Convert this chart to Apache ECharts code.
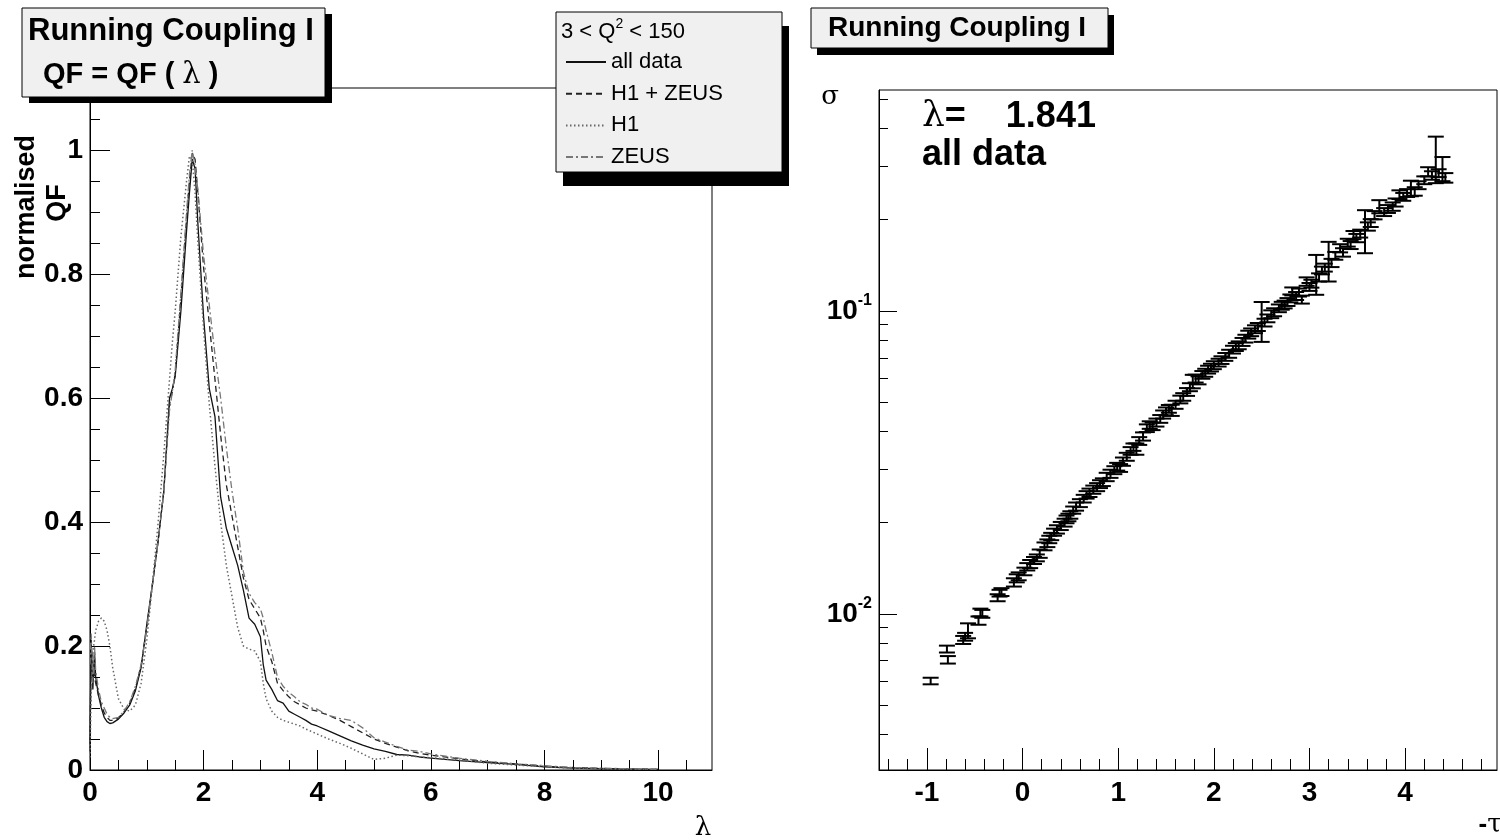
<!DOCTYPE html>
<html>
<head>
<meta charset="utf-8">
<title>Running Coupling I</title>
<script src="https://cdn.jsdelivr.net/npm/echarts@6/dist/echarts.min.js"></script>
<style>
  html, body { margin: 0; padding: 0; background: #fff; }
  #main { width: 1500px; height: 840px; }
</style>
</head>
<body>
<div id="main"></div>
<script>
// ---- left pad : normalised QF as a function of lambda ----
var lambdaGrid = [0, 0.02, 0.05, 0.08, 0.1, 0.15, 0.2, 0.25, 0.3, 0.35,
    0.4, 0.5, 0.6, 0.7, 0.8, 0.9, 1.0, 1.1, 1.2, 1.3,
    1.4, 1.45, 1.5, 1.6, 1.7, 1.75, 1.8, 1.85, 1.9, 2.0,
    2.1, 2.2, 2.3, 2.4, 2.5, 2.6, 2.7, 2.8, 2.9, 3.0,
    3.05, 3.1, 3.2, 3.3, 3.4, 3.5, 3.6, 3.7, 3.8, 3.9,
    4.0, 4.2, 4.4, 4.6, 4.8, 5.0, 5.2, 5.4, 5.6, 5.8,
    6.0, 6.5, 7.0, 7.5, 8.0, 8.5, 9.0, 9.5, 10.0];

var qfAllData = [0.04, 0.21, 0.13, 0.19, 0.15, 0.12, 0.10, 0.085, 0.078, 0.075,
    0.076, 0.082, 0.092, 0.105, 0.128, 0.165, 0.235, 0.30, 0.37, 0.45,
    0.60, 0.615, 0.635, 0.74, 0.87, 0.93, 0.985, 0.97, 0.88, 0.73,
    0.615, 0.57, 0.44, 0.39, 0.36, 0.33, 0.29, 0.245, 0.235, 0.215,
    0.17, 0.145, 0.13, 0.112, 0.108, 0.095, 0.09, 0.085, 0.08, 0.074,
    0.071, 0.063, 0.055, 0.047, 0.04, 0.034, 0.03, 0.025, 0.024, 0.021,
    0.019, 0.015, 0.012, 0.009, 0.005, 0.003, 0.002, 0.0015, 0.001];

var qfH1Zeus = [0.03, 0.2, 0.17, 0.15, 0.14, 0.12, 0.105, 0.092, 0.085, 0.08,
    0.08, 0.084, 0.094, 0.108, 0.132, 0.168, 0.23, 0.30, 0.37, 0.45,
    0.59, 0.61, 0.64, 0.76, 0.89, 0.95, 0.995, 0.985, 0.93, 0.81,
    0.72, 0.63, 0.54, 0.46, 0.41, 0.36, 0.31, 0.275, 0.26, 0.245,
    0.225, 0.2, 0.175, 0.14, 0.128, 0.118, 0.11, 0.105, 0.1, 0.097,
    0.095, 0.088, 0.08, 0.07, 0.06, 0.05, 0.043, 0.037, 0.031, 0.027,
    0.024, 0.018, 0.013, 0.01, 0.006, 0.004, 0.0025, 0.0015, 0.001];

var qfH1 = [0.02, 0.12, 0.19, 0.21, 0.225, 0.24, 0.245, 0.24, 0.225, 0.2,
    0.165, 0.115, 0.098, 0.095, 0.105, 0.14, 0.21, 0.30, 0.40, 0.51,
    0.63, 0.69, 0.74, 0.86, 0.95, 0.99, 0.985, 0.93, 0.85, 0.71,
    0.59, 0.49, 0.40, 0.33, 0.28, 0.23, 0.2, 0.195, 0.192, 0.175,
    0.14, 0.115, 0.095, 0.085, 0.08, 0.077, 0.074, 0.071, 0.066, 0.062,
    0.058, 0.05, 0.043, 0.035, 0.026, 0.017, 0.019, 0.024, 0.023, 0.021,
    0.02, 0.016, 0.011, 0.008, 0.005, 0.003, 0.002, 0.0015, 0.001];

var qfZeus = [0.17, 0.22, 0.14, 0.2, 0.16, 0.13, 0.11, 0.1, 0.09, 0.085,
    0.083, 0.085, 0.095, 0.11, 0.135, 0.17, 0.23, 0.3, 0.37, 0.45,
    0.58, 0.61, 0.645, 0.77, 0.9, 0.96, 1.0, 0.975, 0.935, 0.83,
    0.75, 0.67, 0.6, 0.52, 0.45, 0.39, 0.32, 0.285, 0.27, 0.26,
    0.245, 0.225, 0.19, 0.15, 0.135, 0.125, 0.118, 0.11, 0.106, 0.1,
    0.098, 0.088, 0.083, 0.08, 0.068, 0.052, 0.045, 0.038, 0.032, 0.03,
    0.026, 0.019, 0.014, 0.01, 0.007, 0.004, 0.003, 0.002, 0.001];

// ---- right pad : sigma vs -tau with errors ----
var tauPts = [-0.96, -0.79, -0.78, -0.60, -0.57, -0.46, -0.44, -0.26, -0.24, -0.09,
    -0.06, 0.02, 0.05, 0.12, 0.15, 0.23, 0.26, 0.30, 0.33, 0.44,
    0.46, 0.50, 0.53, 0.64, 0.67, 0.78, 0.81, 0.84, 0.96, 0.99,
    1.02, 1.13, 1.16, 1.19, 1.30, 1.33, 1.36, 1.50, 1.53, 1.56,
    1.65, 1.68, 1.78, 1.81, 1.84, 1.94, 1.97, 2.05, 2.08, 2.20,
    2.23, 2.26, 2.36, 2.39, 2.50, 2.53, 2.60, 2.63, 2.74, 2.77,
    2.82, 2.86, 2.92, 2.97, 3.02, 3.07, 3.10, 3.20, 3.23, 3.32,
    3.35, 3.46, 3.49, 3.58, 3.61, 3.68, 3.73, 3.87, 3.90, 3.94,
    4.06, 4.10, 4.24, 4.28, 4.32, 4.39, 4.42,
    -0.62, -0.42, -0.22, -0.04, 0.08, 0.18, 0.28, 0.36, 0.40, 0.48,
    0.56, 0.60, 0.70, 0.74, 0.88, 0.92, 1.05, 1.09, 1.22, 1.26,
    1.40, 1.44, 1.47, 1.60, 1.72, 1.75, 1.88, 1.91, 2.00, 2.12,
    2.16, 2.30, 2.33, 2.43, 2.46, 2.56, 2.68, 2.71, 2.80, 2.89,
    3.00, 3.13, 3.16, 3.27, 3.40, 3.43, 3.53, 3.64, 3.78, 3.82,
    3.98, 4.02, 4.14, 4.20, 4.35];

var sigmaPts = [0.0060, 0.00765, 0.00705, 0.0084, 0.0088, 0.0095, 0.0101, 0.0113, 0.0117, 0.0127,
    0.0131, 0.0138, 0.0143, 0.0150, 0.0153, 0.0167, 0.0171, 0.0180, 0.0186, 0.0200,
    0.0205, 0.0212, 0.0220, 0.0240, 0.0247, 0.0262, 0.0268, 0.0272, 0.0298, 0.0306,
    0.0303, 0.0345, 0.0355, 0.0350, 0.0410, 0.0420, 0.0416, 0.0466, 0.0475, 0.0470,
    0.0510, 0.0520, 0.0585, 0.0598, 0.0590, 0.0640, 0.0650, 0.0675, 0.0688, 0.0745,
    0.0760, 0.0770, 0.0835, 0.0850, 0.0930, 0.0915, 0.0975, 0.0990, 0.1050, 0.1070,
    0.1160, 0.1120, 0.1090, 0.1250, 0.1230, 0.1330, 0.1290, 0.1470, 0.1440, 0.1610,
    0.1560, 0.1780, 0.1740, 0.1850, 0.1900, 0.2070, 0.2210, 0.2210, 0.2280, 0.2420,
    0.2540, 0.2480, 0.2880, 0.2800, 0.3200, 0.2950, 0.2750,
    0.0082, 0.0100, 0.0118, 0.0133, 0.0146, 0.0158, 0.0176, 0.0190, 0.0195, 0.0208,
    0.0226, 0.0232, 0.0251, 0.0257, 0.0283, 0.0290, 0.0318, 0.0330, 0.0372, 0.0385,
    0.0428, 0.0440, 0.0455, 0.0490, 0.0540, 0.0560, 0.0615, 0.0625, 0.0662, 0.0705,
    0.0722, 0.0790, 0.0810, 0.0870, 0.0885, 0.0945, 0.1020, 0.1040, 0.1100, 0.1150,
    0.1200, 0.1360, 0.1390, 0.1520, 0.1680, 0.1650, 0.1800, 0.1950, 0.2120, 0.2170,
    0.2380, 0.2450, 0.2600, 0.2700, 0.2850];

var sigmaErr = [0.00015, 0.0002, 0.0002, 0.00025, 0.0005, 0.0003, 0.0003, 0.0003, 0.0003, 0.0004,
    0.0004, 0.0004, 0.0004, 0.0004, 0.0004, 0.0005, 0.0005, 0.0005, 0.0005, 0.0006,
    0.0006, 0.0006, 0.0006, 0.0007, 0.0007, 0.0008, 0.0008, 0.0008, 0.0009, 0.0009,
    0.0009, 0.0010, 0.0010, 0.0015, 0.0012, 0.0012, 0.0012, 0.0014, 0.0014, 0.0020,
    0.0015, 0.0015, 0.0030, 0.0018, 0.0018, 0.0019, 0.0019, 0.0020, 0.0020, 0.0022,
    0.0023, 0.0023, 0.0025, 0.0025, 0.0140, 0.0027, 0.0029, 0.0030, 0.0031, 0.0032,
    0.0035, 0.0034, 0.0033, 0.0040, 0.0037, 0.0200, 0.0040, 0.0220, 0.0045, 0.0050,
    0.0050, 0.0055, 0.0055, 0.0300, 0.0060, 0.0065, 0.0110, 0.0070, 0.0070, 0.0080,
    0.0150, 0.0080, 0.0100, 0.0090, 0.0560, 0.0270, 0.0100,
    0.00025, 0.0003, 0.00035, 0.0004, 0.00045, 0.0005, 0.0005, 0.0006, 0.0006, 0.0006,
    0.0007, 0.0007, 0.0008, 0.0008, 0.0009, 0.0009, 0.0010, 0.0010, 0.0011, 0.0012,
    0.0013, 0.0013, 0.0014, 0.0015, 0.0016, 0.0017, 0.0018, 0.0019, 0.0020, 0.0021,
    0.0022, 0.0024, 0.0024, 0.0026, 0.0027, 0.0028, 0.0030, 0.0031, 0.0033, 0.0035,
    0.0036, 0.0040, 0.0042, 0.0045, 0.0050, 0.0050, 0.0054, 0.0058, 0.0064, 0.0065,
    0.0071, 0.0073, 0.0078, 0.0080, 0.0085];

// ---- tick positions ----
var lamMajor = [0, 2, 4, 6, 8, 10];
var lamMinor = [0.5, 1, 1.5, 2.5, 3, 3.5, 4.5, 5, 5.5, 6.5, 7, 7.5, 8.5, 9, 9.5, 10.5];
var qfMajor = [0, 0.2, 0.4, 0.6, 0.8, 1];
var qfMinor = [0.05, 0.1, 0.15, 0.25, 0.3, 0.35, 0.45, 0.5, 0.55, 0.65, 0.7, 0.75,
    0.85, 0.9, 0.95, 1.05];
var tauMajor = [-1, 0, 1, 2, 3, 4];
var tauMinor = [-1.4, -1.2, -0.8, -0.6, -0.4, -0.2, 0.2, 0.4, 0.6, 0.8, 1.2, 1.4, 1.6, 1.8,
    2.2, 2.4, 2.6, 2.8, 3.2, 3.4, 3.6, 3.8, 4.2, 4.4, 4.6, 4.8];
var sigMajor = [0.01, 0.1];
var sigMinor = [0.004, 0.005, 0.006, 0.007, 0.008, 0.009,
    0.02, 0.03, 0.04, 0.05, 0.06, 0.07, 0.08, 0.09, 0.2, 0.3, 0.4, 0.5];

var FONT = '"Liberation Sans", Arial, sans-serif';
var CAP_HALF = 8;

function pairs(ys) {
    return lambdaGrid.map(function (x, i) { return [x, ys[i]]; });
}

function majorAxis(grid, pos, min, max, ticks, len, type) {
    return {
        type: type || 'value', gridIndex: grid, position: pos, min: min, max: max,
        axisLine: { show: true, onZero: false, lineStyle: { color: '#000', width: 1 } },
        axisTick: { show: true, inside: true, length: len, customValues: ticks,
            lineStyle: { color: '#000', width: 1 } },
        axisLabel: { show: true, customValues: ticks, color: '#000', fontFamily: FONT,
            fontWeight: 'bold', fontSize: 28, margin: pos === 'bottom' ? 9 : 7 },
        splitLine: { show: false }, minorTick: { show: false }
    };
}

function minorAxis(grid, pos, min, max, ticks, len, type) {
    return {
        type: type || 'value', gridIndex: grid, position: pos, min: min, max: max,
        axisLine: { show: false, onZero: false },
        axisTick: { show: true, inside: true, length: len, customValues: ticks,
            lineStyle: { color: '#000', width: 1 } },
        axisLabel: { show: false },
        splitLine: { show: false }
    };
}

function renderErrorBar(params, api) {
    var t = api.value(0), s = api.value(1), e = api.value(2);
    var top = api.coord([t, s + e]);
    var bot = api.coord([t, s - e]);
    var st = { stroke: '#000', lineWidth: 2 };
    return {
        type: 'group',
        children: [
            { type: 'line', shape: { x1: top[0], y1: top[1], x2: bot[0], y2: bot[1] }, style: st },
            { type: 'line', shape: { x1: top[0] - CAP_HALF, y1: top[1], x2: top[0] + CAP_HALF, y2: top[1] }, style: st },
            { type: 'line', shape: { x1: bot[0] - CAP_HALF, y1: bot[1], x2: bot[0] + CAP_HALF, y2: bot[1] }, style: st }
        ]
    };
}

function box(x, y, w, h, dx, dy) {
    return [
        { type: 'rect', z: 50, shape: { x: x + dx, y: y + dy, width: w, height: h }, style: { fill: '#000' } },
        { type: 'rect', z: 51, shape: { x: x, y: y, width: w, height: h },
            style: { fill: '#f0f0f0', stroke: '#000', lineWidth: 1 } }
    ];
}

var yAxLeft = majorAxis(0, 'left', 0, 1.1, qfMajor, 20);
var yAxRight = majorAxis(1, 'left', 0.00305, 0.536, sigMajor, 18, 'log');
yAxRight.axisLabel.formatter = function (v) {
    return '10{sup|' + Math.round(Math.log(v) / Math.LN10) + '}';
};
yAxRight.axisLabel.rich = { sup: { fontSize: 16, fontWeight: 'bold', fontFamily: FONT, padding: [0, 0, 20, 0] } };

var graphics = [].concat(
    box(22, 8, 303, 89, 7, 6),
    box(811, 8, 297, 40, 6, 7),
    box(556, 12, 226, 160, 7, 14),
    [
        { type: 'text', z: 52, style: { x: 28, y: 31, text: 'Running Coupling I', fill: '#000',
            font: 'bold 31px ' + FONT, verticalAlign: 'middle' } },
        { type: 'text', z: 52, style: { x: 43, y: 75, text: '{b|QF = QF ( }{l|\u03bb}{b| )}',
            verticalAlign: 'middle', rich: {
                b: { font: 'bold 29px ' + FONT, fill: '#000' },
                l: { font: '29px "DejaVu Serif", serif', fill: '#000' } } } },
        { type: 'text', z: 52, style: { x: 828, y: 28, text: 'Running Coupling I', fill: '#000',
            font: 'bold 28px ' + FONT, verticalAlign: 'middle' } },
        { type: 'text', z: 52, style: { x: 561, y: 32, text: '3 < Q{sup|2} < 150',
            verticalAlign: 'middle', font: '22px ' + FONT, fill: '#000', rich: {
                sup: { font: '14px ' + FONT, fill: '#000', padding: [0, 0, 16, 0] } } } },
        { type: 'text', z: 52, style: { x: 922, y: 117, text: '{l|\u03bb}{b|=    1.841}',
            verticalAlign: 'middle', rich: {
                l: { font: '36px "DejaVu Serif", serif', fill: '#000' },
                b: { font: 'bold 36px ' + FONT, fill: '#000' } } } },
        { type: 'text', z: 52, style: { x: 922, y: 155, text: 'all data', fill: '#000',
            font: 'bold 36px ' + FONT, verticalAlign: 'middle' } },
        { type: 'text', z: 52, style: { x: 830, y: 97, text: '\u03c3', fill: '#000',
            font: '26px "DejaVu Serif", serif', align: 'center', verticalAlign: 'middle' } },
        { type: 'text', z: 52, style: { x: 1490, y: 825, text: '{b|-}{l|\u03c4}', align: 'center',
            verticalAlign: 'middle', rich: {
                b: { font: 'bold 26px ' + FONT, fill: '#000' },
                l: { font: '26px "DejaVu Serif", serif', fill: '#000' } } } },
        { type: 'text', z: 52, style: { x: 703, y: 828, text: '\u03bb', fill: '#000',
            font: '26px "DejaVu Serif", serif', align: 'center', verticalAlign: 'middle' } },
        { type: 'text', z: 52, x: 27, y: 207, rotation: Math.PI / 2,
            style: { x: 0, y: 0, text: 'normalised', fill: '#000', font: 'bold 27px ' + FONT,
                align: 'center', verticalAlign: 'middle' } },
        { type: 'text', z: 52, x: 58, y: 203, rotation: Math.PI / 2,
            style: { x: 0, y: 0, text: 'QF', fill: '#000', font: 'bold 27px ' + FONT,
                align: 'center', verticalAlign: 'middle' } }
    ]
);

var chart = echarts.init(document.getElementById('main'), null, { renderer: 'canvas' });

var option = {
    animation: false,
    backgroundColor: '#fff',
    textStyle: { fontFamily: FONT },
    grid: [
        { left: 90, top: 88, width: 622, height: 682, show: true, borderColor: '#000',
            borderWidth: 1, backgroundColor: 'transparent', containLabel: false, outerBoundsMode: 'none' },
        { left: 879, top: 90, width: 618, height: 680, show: true, borderColor: '#000',
            borderWidth: 1, backgroundColor: 'transparent', containLabel: false, outerBoundsMode: 'none' }
    ],
    xAxis: [
        majorAxis(0, 'bottom', 0, 10.95, lamMajor, 20),
        minorAxis(0, 'bottom', 0, 10.95, lamMinor, 10),
        majorAxis(1, 'bottom', -1.5, 4.96, tauMajor, 22),
        minorAxis(1, 'bottom', -1.5, 4.96, tauMinor, 11)
    ],
    yAxis: [
        yAxLeft,
        minorAxis(0, 'left', 0, 1.1, qfMinor, 10),
        yAxRight,
        minorAxis(1, 'left', 0.00305, 0.536, sigMinor, 9, 'log')
    ],
    legend: {
        show: true, orient: 'vertical', left: 565, top: 51, padding: 0,
        itemGap: 9.7, itemWidth: 40, itemHeight: 22, selectedMode: false, z: 60,
        itemStyle: { opacity: 0, borderWidth: 0 },
        textStyle: { fontFamily: FONT, fontSize: 22, color: '#000' },
        data: ['all data', 'H1 + ZEUS', 'H1', 'ZEUS']
    },
    graphic: { elements: graphics },
    series: [
        { name: 'all data', type: 'line', xAxisIndex: 0, yAxisIndex: 0, symbol: 'none',
            data: pairs(qfAllData), lineStyle: { color: '#111', width: 1.3, type: 'solid' },
            itemStyle: { color: '#111' } },
        { name: 'H1 + ZEUS', type: 'line', xAxisIndex: 0, yAxisIndex: 0, symbol: 'none',
            data: pairs(qfH1Zeus), lineStyle: { color: '#222', width: 1.3, type: [6, 4] },
            itemStyle: { color: '#222' } },
        { name: 'H1', type: 'line', xAxisIndex: 0, yAxisIndex: 0, symbol: 'none',
            data: pairs(qfH1), lineStyle: { color: '#666', width: 1.5, type: [1.5, 2.5] },
            itemStyle: { color: '#666' } },
        { name: 'ZEUS', type: 'line', xAxisIndex: 0, yAxisIndex: 0, symbol: 'none',
            data: pairs(qfZeus), lineStyle: { color: '#777', width: 1.3, type: [7, 3, 2, 3] },
            itemStyle: { color: '#777' } },
        { name: 'sigma', type: 'custom', xAxisIndex: 2, yAxisIndex: 2,
            renderItem: renderErrorBar, encode: { x: 0, y: 1 },
            data: tauPts.map(function (t, i) { return [t, sigmaPts[i], sigmaErr[i]]; }) }
    ]
};

chart.setOption(option);
</script>
</body>
</html>
